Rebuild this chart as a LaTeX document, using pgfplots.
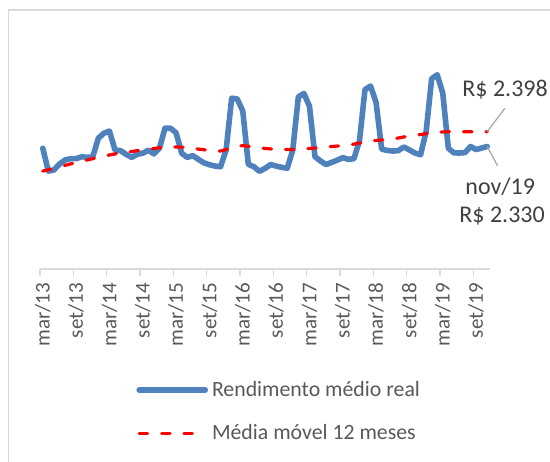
\documentclass[border=0pt]{standalone}
\usepackage{fontspec}
\setmainfont{Carlito}
\usepackage{pgfplots}
\usepackage{pgfplotstable}
\pgfplotsset{compat=1.18}
\definecolor{serieblue}{RGB}{79,129,189}
\definecolor{txtgray}{RGB}{89,89,89}
\definecolor{axgray}{RGB}{217,217,217}
\definecolor{leadgray}{RGB}{166,166,166}
\definecolor{anngray}{RGB}{64,64,64}
\pgfplotsset{
  legA/.style={legend image code/.code={\draw[##1] (0pt,0pt) -- (33pt,0pt);}},
  legB/.style={legend image code/.code={\draw[##1] (0pt,0pt) -- (28pt,0pt);}},
}

\pgfplotstableread{
i real mm
0 2322 2217
1 2217 2223
2 2222 2229
3 2249 2236
4 2268 2243
5 2274 2250
6 2274 2256
7 2283 2262
8 2280 2268
9 2283 2274
10 2368 2280
11 2391 2286
12 2401 2291
13 2314 2296
14 2311 2301
15 2294 2304
16 2280 2307
17 2294 2311
18 2299 2314
19 2313 2318
20 2296 2321
21 2322 2324
22 2414 2326
23 2414 2327
24 2393 2328
25 2299 2327
26 2280 2325
27 2288 2322
28 2271 2318
29 2255 2315
30 2246 2312
31 2240 2310
32 2237 2309
33 2314 2316
34 2552 2325
35 2549 2332
36 2493 2334
37 2248 2331
38 2237 2328
39 2216 2324
40 2229 2321
41 2247 2319
42 2240 2317
43 2234 2316
44 2230 2316
45 2314 2316
46 2558 2317
47 2574 2319
48 2516 2321
49 2283 2323
50 2263 2325
51 2247 2328
52 2257 2330
53 2267 2332
54 2279 2334
55 2271 2337
56 2274 2341
57 2355 2346
58 2592 2351
59 2608 2355
60 2532 2358
61 2318 2360
62 2312 2362
63 2309 2366
64 2311 2369
65 2328 2374
66 2314 2378
67 2300 2382
68 2292 2385
69 2398 2389
70 2642 2392
71 2660 2395
72 2575 2397
73 2322 2398
74 2301 2398
75 2300 2398
76 2302 2398
77 2330 2398
78 2316 2398
79 2323 2398
80 2330 2398
}\datatable

\begin{document}
\begin{tikzpicture}
\path[use as bounding box] (0pt,0pt) rectangle (275pt,-230.5pt);
\draw[axgray, line width=0.6pt] (4.2pt,-300pt) -- (4.2pt,-5pt) -- (300pt,-5pt);
\begin{axis}[
  at={(20pt,-134.5pt)}, anchor=south west,
  scale only axis, width=225pt, height=114.5pt,
  xmin=-0.5, xmax=80.5, ymin=1766.5, ymax=2819.9,
  hide y axis, axis x line*=bottom,
  x axis line style={axgray, line width=0.75pt},
  xtick={-0.5,5.5,...,77.5},
  xticklabels={mar/13,set/13,mar/14,set/14,mar/15,set/15,mar/16,set/16,mar/17,set/17,mar/18,set/18,mar/19,set/19},
  tick align=outside,
  major tick length=3.5pt,
  x tick style={axgray, line width=0.75pt},
  x tick label style={xshift=1.4pt, rotate=90, anchor=east, font=\fontsize{10.5}{12}\selectfont, text=txtgray},
  /pgf/number format/assume math mode=true,
  clip=false,
  legend cell align=left,
  legend style={at={(0.2,-0.452)}, anchor=north west, draw=none, fill=none,
    font=\fontsize{10.9}{13}\selectfont, text=txtgray, row sep=8.5pt},
]
\addplot[serieblue, line width=2.8pt, line join=round, line cap=round, legA]
  table[x=i, y=real] {\datatable};
\addlegendentry{Rendimento médio real}
\addplot[red, line width=1.6pt, line cap=round, dash pattern=on 4.2pt off 7pt, legB]
  table[x=i, y=mm] {\datatable};
\addlegendentry{Média móvel 12 meses}
\draw[leadgray, line width=0.6pt] (axis cs:80,2398) -- ++(8.8pt,11.7pt);
\draw[leadgray, line width=0.6pt] (axis cs:80,2330) -- ++(5.2pt,-9.7pt);
\end{axis}
\node[anchor=west, inner sep=0pt, text=anngray, font=\fontsize{12}{14}\selectfont] at (231pt,-45pt) {R\$ 2.398};
\node[anchor=west, inner sep=0pt, text=anngray, font=\fontsize{12}{14}\selectfont] at (232.5pt,-93.3pt) {nov/19};
\node[anchor=west, inner sep=0pt, text=anngray, font=\fontsize{12}{14}\selectfont] at (229.5pt,-108pt) {R\$ 2.330};
\end{tikzpicture}
\end{document}
